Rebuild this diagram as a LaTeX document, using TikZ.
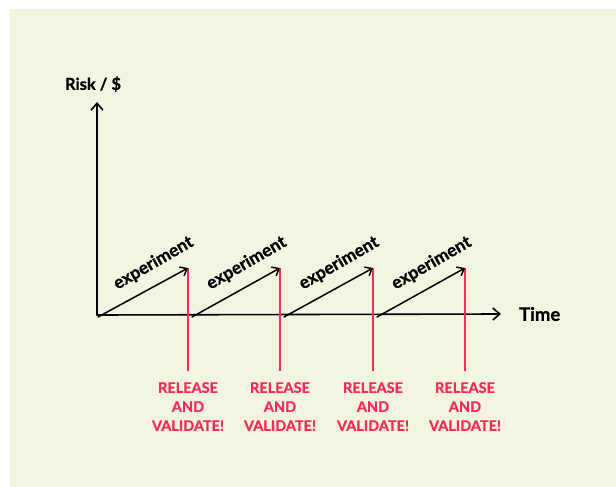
\documentclass[tikz,border=0pt]{standalone}
\usepackage{fontspec}
\setsansfont{Lato}[BoldFeatures={FakeBold=0.8}]
\usetikzlibrary{arrows.meta,calc}
\definecolor{paper}{RGB}{244,245,225}
\definecolor{alarm}{RGB}{250,42,88}
\tikzset{
    axis/.style={line width=1.6pt,line cap=round,
        -{Straight Barb[length=7pt,width=12pt,line width=1.6pt]}},
    experiment arrow/.style={line width=1.5pt,line cap=round,
        -{Straight Barb[length=6pt,width=10pt,line width=1.5pt]}},
    release line/.style={alarm,line width=1.5pt},
    axis label/.style={inner sep=0pt,
        font=\sffamily\bfseries\fontsize{16.5}{20}\selectfont},
    experiment label/.style={inner sep=0pt,anchor=base,rotate=30,
        font=\sffamily\bfseries\fontsize{17.5}{20}\selectfont},
    release label/.style={alarm,inner sep=0pt,anchor=north,align=center,
        font=\sffamily\bfseries\fontsize{14.5}{19}\selectfont},
}
\begin{document}
\begin{tikzpicture}[x=1pt,y=-1pt]
    \useasboundingbox (0,0) rectangle (616,487);
    \fill[white] (0,0) rectangle (616,487);
    \fill[paper] (10,9) rectangle (616,487);

    % axes
    \coordinate (O) at (97,315);
    \coordinate (ytip) at (97,102);
    \coordinate (xtip) at (501,314);
    \draw[axis] (O) -- (ytip);
    \draw[axis] (O) -- (xtip);
    \node[axis label] (risk) at (93,84) {Risk / \$};
    \node[axis label,anchor=west,font=\sffamily\bfseries\fontsize{18.5}{20}\selectfont]
        (time) at (519,314) {Time};

    % experiments and releases
    \foreach \i/\sx/\px in {1/98/188,2/192/280,3/284/373,4/377/465}{
        \coordinate (s\i) at (\sx,317);
        \coordinate (p\i) at (\px,268);
        \coordinate (f\i) at (\px,371);
        \draw[release line] (p\i) -- (f\i);
        \draw[experiment arrow] (s\i) -- (p\i);
        \node[experiment label] (e\i) at ($(s\i)!.5!(p\i)+(13,-25)$) {experiment};
        \node[release label] (r\i) at (\px,382) {RELEASE\\AND\\VALIDATE!};
    }
\end{tikzpicture}
\end{document}
